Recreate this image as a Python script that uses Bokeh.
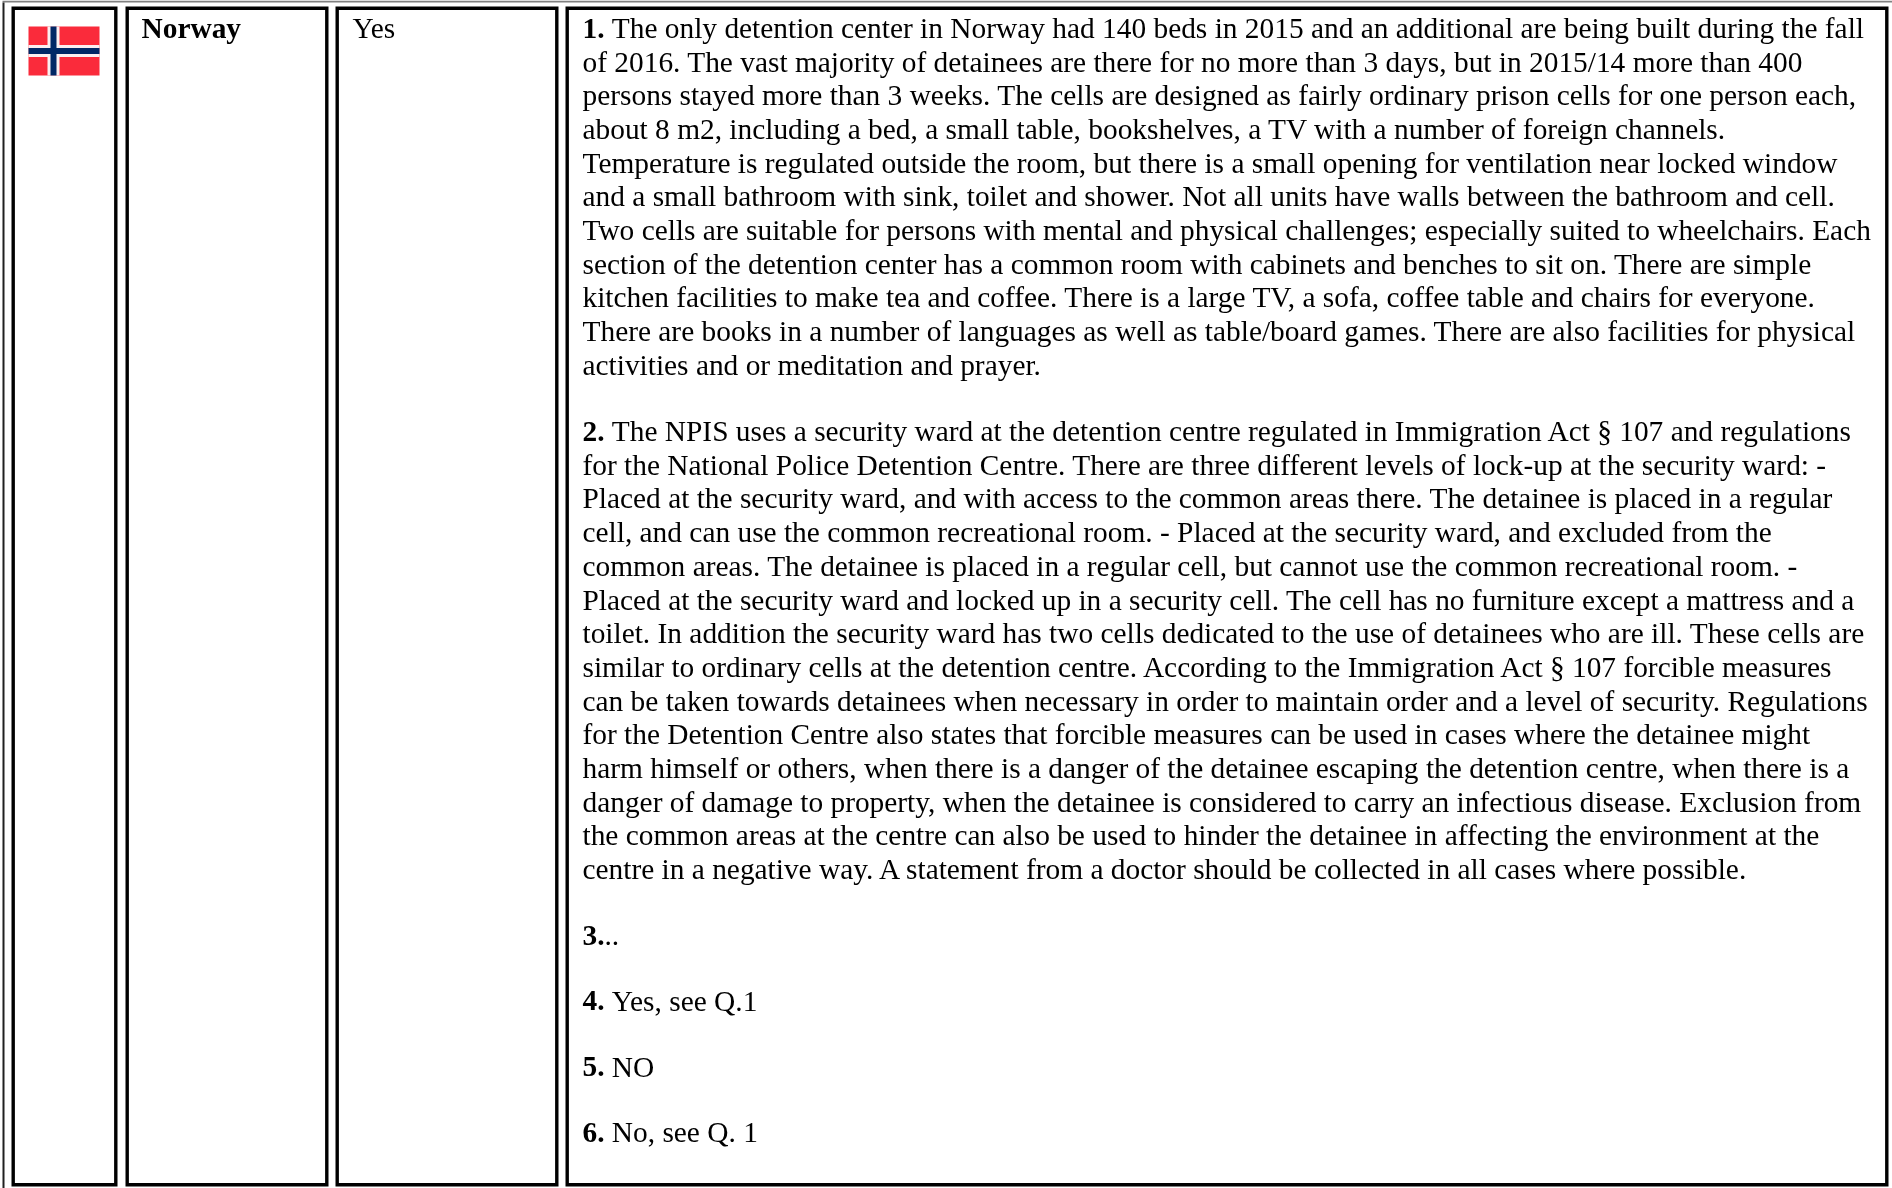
from bokeh.plotting import figure
from bokeh.models import ColumnDataSource, Range1d
from bokeh.core.properties import value
from bokeh.embed import file_html
from bokeh.resources import INLINE

W, H = 1892, 1188
FONT = "Liberation Serif"
SIZE = 29.38
PITCH = 33.68
GAPS = [66.3, 66.3, 65.6, 65.8, 65.6, 0]
BASE = 27.5

country = "Norway"
answer = "Yes"

para1 = [
    "The only detention center in Norway had 140 beds in 2015 and an additional are being built during the fall",
    "of 2016. The vast majority of detainees are there for no more than 3 days, but in 2015/14 more than 400",
    "persons stayed more than 3 weeks. The cells are designed as fairly ordinary prison cells for one person each,",
    "about 8 m2, including a bed, a small table, bookshelves, a TV with a number of foreign channels.",
    "Temperature is regulated outside the room, but there is a small opening for ventilation near locked window",
    "and a small bathroom with sink, toilet and shower. Not all units have walls between the bathroom and cell.",
    "Two cells are suitable for persons with mental and physical challenges; especially suited to wheelchairs. Each",
    "section of the detention center has a common room with cabinets and benches to sit on. There are simple",
    "kitchen facilities to make tea and coffee. There is a large TV, a sofa, coffee table and chairs for everyone.",
    "There are books in a number of languages as well as table/board games. There are also facilities for physical",
    "activities and or meditation and prayer.",
]
para2 = [
    "The NPIS uses a security ward at the detention centre regulated in Immigration Act § 107 and regulations",
    "for the National Police Detention Centre. There are three different levels of lock-up at the security ward: -",
    "Placed at the security ward, and with access to the common areas there. The detainee is placed in a regular",
    "cell, and can use the common recreational room. - Placed at the security ward, and excluded from the",
    "common areas. The detainee is placed in a regular cell, but cannot use the common recreational room. -",
    "Placed at the security ward and locked up in a security cell. The cell has no furniture except a mattress and a",
    "toilet. In addition the security ward has two cells dedicated to the use of detainees who are ill. These cells are",
    "similar to ordinary cells at the detention centre. According to the Immigration Act § 107 forcible measures",
    "can be taken towards detainees when necessary in order to maintain order and a level of security. Regulations",
    "for the Detention Centre also states that forcible measures can be used in cases where the detainee might",
    "harm himself or others, when there is a danger of the detainee escaping the detention centre, when there is a",
    "danger of damage to property, when the detainee is considered to carry an infectious disease. Exclusion from",
    "the common areas at the centre can also be used to hinder the detainee in affecting the environment at the",
    "centre in a negative way. A statement from a doctor should be collected in all cases where possible.",
]
para3 = [".."]
para4 = ["Yes, see Q.1"]
para5 = ["NO"]
para6 = ["No, see Q. 1"]
paragraphs = [para1, para2, para3, para4, para5, para6]
labels = ["1.", "2.", "3.", "4.", "5.", "6."]

cell_l = [11, 125, 335, 565]
cell_r = [117, 328, 558, 1888]
CELL_T, CELL_B, BW = 6, 1186, 3.4
TX = 582

p = figure(width=W, height=H, x_range=Range1d(0, W), y_range=Range1d(H, 0),
           output_backend="svg", toolbar_location=None,
           x_axis_location=None, y_axis_location=None,
           min_border=0, min_border_left=0, min_border_right=0,
           min_border_top=0, min_border_bottom=0,
           outline_line_color=None, background_fill_color="white",
           styles={"position": "fixed", "left": "0px", "top": "0px"})
p.grid.visible = False

def box(l, r, t, b, color):
    p.quad(left=[l], right=[r], top=[t], bottom=[b], fill_color=color, line_color=None)

box(2, W, 0, 2, "#808080")
box(2, 4, 2, H, "#202020")

for l, r in zip(cell_l, cell_r):
    box(l, r, CELL_T, CELL_B, "black")
    box(l + BW, r - BW, CELL_T + BW, CELL_B - BW, "white")

# flag of Norway
box(28, 99, 26, 75, "#FA2B3B")
box(47, 59, 26, 75, "#FBEFF0")
box(28, 99, 44.5, 56.5, "#FBEFF0")
box(50, 56, 26, 75, "#012866")
box(28, 99, 47.5, 53.5, "#012866")

reg = dict(x=[], y=[], text=[])
bold = dict(x=[], y=[], text=[])
y = BASE
for lab, para, gap in zip(labels, paragraphs, GAPS):
    bold["x"].append(TX); bold["y"].append(y); bold["text"].append(lab)
    for k, line in enumerate(para):
        if k > 0:
            y += PITCH
        reg["x"].append(TX + (29.3 if k == 0 and line != ".." else (22 if k == 0 else 0)))
        reg["y"].append(y)
        reg["text"].append(line)
    y += gap

bold["x"].append(141); bold["y"].append(BASE); bold["text"].append(country)
reg["x"].append(352); reg["y"].append(BASE); reg["text"].append(answer)

common = dict(text_font=value(FONT), text_font_size=f"{SIZE}px", text_color="black",
              text_baseline="alphabetic", text_align="left")
p.text("x", "y", "text", source=ColumnDataSource(reg), **common)
p.text("x", "y", "text", source=ColumnDataSource(bold), text_font_style="bold", **common)

open("out.html", "w").write(file_html(p, INLINE))
